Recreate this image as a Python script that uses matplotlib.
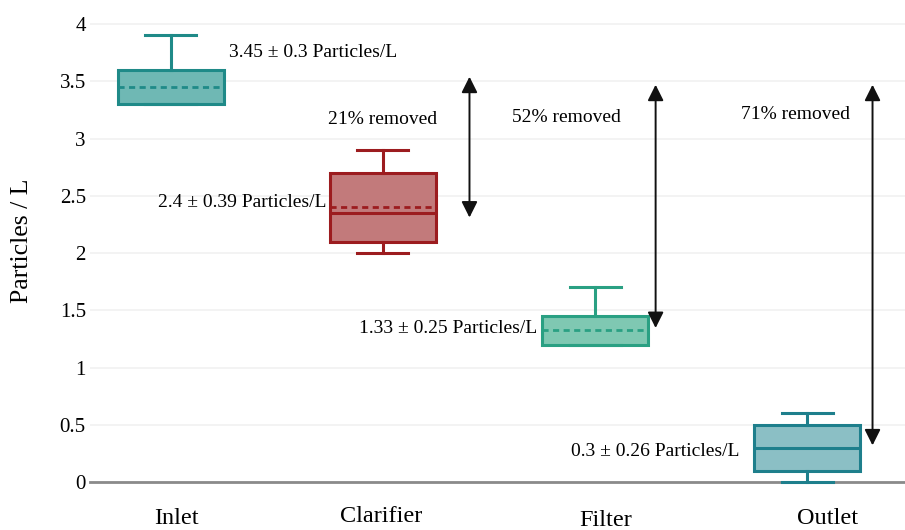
import numpy as np
import matplotlib
matplotlib.use("Agg")
import matplotlib.pyplot as plt
from matplotlib.transforms import blended_transform_factory

plt.rcParams['font.family'] = ['Liberation Serif', 'DejaVu Serif']

# Sampling sites and box statistics (particles per litre)
sites = ["Inlet", "Clarifier", "Filter", "Outlet"]
whisker_low = [3.30, 2.00, 1.20, 0.00]
q1 = [3.30, 2.10, 1.20, 0.10]
median = [np.nan, 2.35, np.nan, 0.30]
q3 = [3.60, 2.70, 1.45, 0.50]
whisker_high = [3.90, 2.90, 1.70, 0.60]
mean = [3.45, 2.40, 1.33, 0.30]
sd = [0.30, 0.39, 0.25, 0.26]

# Removal relative to the inlet
removed_pct = [21, 52, 71]
arrow_top = [3.54, 3.47, 3.47]
arrow_bottom = [2.31, 1.345, 0.32]

edge_colors = ["#1f8a88", "#9c1c1f", "#2aa083", "#1e7f8c"]
fill_colors = ["#6fb8b4", "#c27a7b", "#7fc8b2", "#8bbfc5"]

fig = plt.figure(figsize=(9.05, 5.30), dpi=100)
ax = fig.add_axes([90 / 905, 48 / 530, 815 / 905, 482 / 530])

positions = np.arange(len(sites))
stats = []
for i, name in enumerate(sites):
    stats.append(dict(label=name, whislo=whisker_low[i], q1=q1[i], med=median[i],
                      q3=q3[i], whishi=whisker_high[i], mean=mean[i]))

for i in range(len(sites)):
    ec, fc = edge_colors[i], fill_colors[i]
    ax.bxp([stats[i]], positions=[positions[i]], widths=0.5, capwidths=0.24,
           patch_artist=True, showfliers=False, showmeans=True, meanline=True,
           boxprops=dict(facecolor=fc, edgecolor=ec, linewidth=2.2, zorder=3),
           whiskerprops=dict(color=ec, linewidth=2.2, zorder=3),
           capprops=dict(color=ec, linewidth=2.2, zorder=5),
           medianprops=dict(color=ec, linewidth=2.2, zorder=5),
           meanprops=dict(color=ec, linewidth=2.0, linestyle=(0, (2.2, 1.6)), zorder=4),
           manage_ticks=False)

for artist in ax.lines + ax.patches:
    artist.set_clip_on(False)

ax.set_xlim(-0.38, 3.46)
ax.set_ylim(0, 4.21)
ax.set_yticks(np.arange(0, 4.01, 0.5))
ax.set_yticklabels(["0", "0.5", "1", "1.5", "2", "2.5", "3", "3.5", "4"])
ax.set_xticks([])
ax.tick_params(axis='y', length=0, pad=3, labelsize=15)
ax.grid(axis='y', color="#f1f1f1", linewidth=1.2)
ax.set_axisbelow(True)
for side in ["top", "right", "left"]:
    ax.spines[side].set_visible(False)
ax.spines["bottom"].set_color("#8a8a8a")
ax.spines["bottom"].set_linewidth(2)
ax.spines["bottom"].set_zorder(2)
ax.set_ylabel("Particles / L", fontsize=18.5)
ax.yaxis.set_label_coords(-0.07, 0.5)

# Category labels under the axis
label_x = [0.028, 0.994, 2.05, 3.095]
label_dy = [-37, -35, -39, -36]
trans = blended_transform_factory(ax.transData, ax.transAxes)
for name, x, dy in zip(sites, label_x, label_dy):
    ax.annotate(name, xy=(x, 0), xycoords=trans, xytext=(0, dy),
                textcoords="offset pixels", ha="center", va="center", fontsize=17.5)

# Mean +/- SD labels
value_pos = [(0.273, 3.75, "left"), (0.735, 2.44, "right"),
             (1.729, 1.345, "right"), (2.68, 0.27, "right")]
for (x, y, ha), m, s in zip(value_pos, mean, sd):
    ax.text(x, y, f"{m:g} \u00b1 {s:g} Particles/L", ha=ha, va="center", fontsize=14)

# Removal arrows and labels
arrow_x = [1.408, 2.285, 3.307]
text_pos = [(1.0, 3.17), (1.865, 3.18), (2.944, 3.21)]
for x, top, bot in zip(arrow_x, arrow_top, arrow_bottom):
    ax.annotate("", xy=(x, bot), xytext=(x, top),
                arrowprops=dict(arrowstyle="<|-|>", color="#111111", lw=1.4,
                                mutation_scale=24, shrinkA=0, shrinkB=0))
for (x, y), p in zip(text_pos, removed_pct):
    ax.text(x, y, f"{p}% removed", ha="center", va="center", fontsize=14)

fig.savefig("out.png", dpi=100)
